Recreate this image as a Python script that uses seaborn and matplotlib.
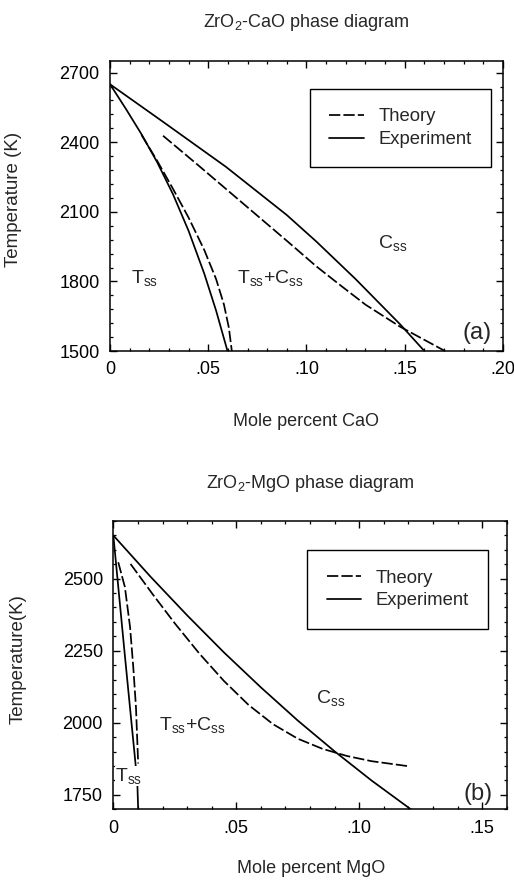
import matplotlib
matplotlib.use("Agg")
import matplotlib.pyplot as plt
import numpy as np
import pandas as pd
import seaborn as sns
from matplotlib.ticker import MultipleLocator, FixedLocator, FixedFormatter
from matplotlib.lines import Line2D

# ---------------- data: ZrO2-CaO (panel a) ----------------
ca_exp_css_x = [0.0, 0.027, 0.059, 0.090, 0.105, 0.125, 0.148, 0.160]
ca_exp_css_T = [2650, 2488, 2294, 2086, 1972, 1810, 1612, 1500]
ca_exp_tss_x = [0.0, 0.008, 0.016, 0.024, 0.032, 0.040, 0.048, 0.054, 0.0598]
ca_exp_tss_T = [2650, 2545, 2435, 2314, 2177, 2018, 1833, 1674, 1500]
ca_th_tss_x = [0.016, 0.024, 0.032, 0.040, 0.048, 0.054, 0.058, 0.0605, 0.062]
ca_th_tss_T = [2432, 2320, 2200, 2075, 1935, 1810, 1700, 1600, 1500]
ca_th_css_x = [0.027, 0.045, 0.063, 0.090, 0.105, 0.117, 0.130, 0.1476, 0.1705]
ca_th_css_T = [2428, 2300, 2170, 1975, 1865, 1785, 1700, 1605, 1500]
ca_xticks = [0.0, 0.05, 0.10, 0.15, 0.20]
ca_xticklabels = ["0", ".05", ".10", ".15", ".20"]
ca_yticks = [1500, 1800, 2100, 2400, 2700]

# ---------------- data: ZrO2-MgO (panel b) ----------------
mg_exp_css_x = [0.0, 0.015, 0.030, 0.045, 0.060, 0.075, 0.090, 0.105, 0.121]
mg_exp_css_T = [2650, 2508, 2373, 2244, 2123, 2008, 1901, 1800, 1700]
mg_exp_tss_x = [0.0, 0.0045, 0.009, 0.0098, 0.0101]
mg_exp_tss_T = [2650, 2250, 1860, 1780, 1700]
mg_th_tss_x = [0.0020, 0.0047, 0.0068, 0.0081, 0.0092, 0.0101]
mg_th_tss_T = [2557, 2471, 2332, 2194, 2055, 1859]
mg_th_css_x = [0.007, 0.016, 0.025, 0.035, 0.045, 0.055, 0.065, 0.075, 0.085, 0.095, 0.105, 0.1196]
mg_th_css_T = [2551, 2446, 2345, 2240, 2145, 2062, 1995, 1945, 1910, 1885, 1867, 1850]
mg_xticks = [0.0, 0.05, 0.10, 0.15]
mg_xticklabels = ["0", ".05", ".10", ".15"]
mg_yticks = [1750, 2000, 2250, 2500]

sns.set_style("ticks")
plt.rcParams["font.family"] = ["Liberation Sans", "DejaVu Sans"]
plt.rcParams["mathtext.fontset"] = "custom"
plt.rcParams["mathtext.rm"] = "Liberation Sans"
plt.rcParams["mathtext.it"] = "Liberation Sans:italic"

fig = plt.figure(figsize=(5.14, 8.82), dpi=100)
ax1 = fig.add_axes([0.214, 0.602, 0.7646, 0.3288])
ax2 = fig.add_axes([0.2205, 0.0824, 0.7654, 0.3269])

LW = 1.25
DASH = (6.5, 1.8)
TICK_FS = 13
LAB_FS = 13
REG_FS = 14


def draw(ax, x, T, dashed):
    df = pd.DataFrame({"x": x, "T": T})
    sns.lineplot(data=df, x="x", y="T", ax=ax, color="black", lw=LW,
                 estimator=None, sort=False)
    line = ax.lines[-1]
    line.set_solid_joinstyle("round")
    if dashed:
        line.set_dashes(DASH)


def style(ax, xlim, ylim, xticks, xlabels, yticks, xminor, yminor):
    ax.set_xlim(*xlim)
    ax.set_ylim(*ylim)
    ax.xaxis.set_major_locator(FixedLocator(xticks))
    ax.xaxis.set_major_formatter(FixedFormatter(xlabels))
    ax.yaxis.set_major_locator(FixedLocator(yticks))
    ax.xaxis.set_minor_locator(MultipleLocator(xminor))
    ax.yaxis.set_minor_locator(MultipleLocator(yminor))
    ax.tick_params(which="both", direction="in", top=True, right=True,
                   labelsize=TICK_FS, pad=7.5, color="black", labelcolor="black")
    ax.tick_params(which="major", length=5, width=1.0)
    ax.tick_params(which="minor", length=2.5, width=0.9)
    for s in ax.spines.values():
        s.set_visible(True)
        s.set_linewidth(1.1)
        s.set_color("black")


def legend(ax, anchor):
    handles = [Line2D([], [], color="black", lw=LW, dashes=DASH),
               Line2D([], [], color="black", lw=LW)]
    leg = ax.legend(handles, ["Theory", "Experiment"], loc="upper right",
                    bbox_to_anchor=anchor, borderaxespad=0, fontsize=13.3,
                    frameon=True, fancybox=False, framealpha=1,
                    edgecolor="black", borderpad=1.05, handlelength=1.85,
                    handletextpad=0.8, labelspacing=0.3)
    leg.get_frame().set_linewidth(1.0)


# ---------------- panel a ----------------
draw(ax1, ca_exp_css_x, ca_exp_css_T, False)
draw(ax1, ca_exp_tss_x, ca_exp_tss_T, False)
draw(ax1, ca_th_tss_x, ca_th_tss_T, True)
draw(ax1, ca_th_css_x, ca_th_css_T, True)
style(ax1, (0, 0.20), (1500, 2750), ca_xticks, ca_xticklabels, ca_yticks, 0.01, 60)
legend(ax1, (0.9695, 0.9034))
ax1.set_xlabel("Mole percent CaO", fontsize=LAB_FS)
ax1.set_ylabel("Temperature (K)", fontsize=13.5)
ax1.xaxis.set_label_coords(0.5, -0.215)
ax1.yaxis.set_label_coords(-0.225, 0.524)
ax1.text(0.5, 1.118, r"ZrO$_\mathregular{2}$-CaO phase diagram", transform=ax1.transAxes,
         ha="center", va="baseline", fontsize=13)
ax1.text(0.0178, 1815, r"T$_\mathregular{ss}$", ha="center", va="center", fontsize=REG_FS)
ax1.text(0.0818, 1815, r"T$_\mathregular{ss}$+C$_\mathregular{ss}$", ha="center", va="center", fontsize=REG_FS)
ax1.text(0.1438, 1965, r"C$_\mathregular{ss}$", ha="center", va="center", fontsize=REG_FS)
ax1.text(0.187, 1578, "(a)", ha="center", va="center", fontsize=17)

# ---------------- panel b ----------------
draw(ax2, mg_exp_css_x, mg_exp_css_T, False)
draw(ax2, mg_exp_tss_x, mg_exp_tss_T, False)
draw(ax2, mg_th_tss_x, mg_th_tss_T, True)
draw(ax2, mg_th_css_x, mg_th_css_T, True)
style(ax2, (0, 0.16), (1700, 2700), mg_xticks, mg_xticklabels, mg_yticks, 0.01, 50)
legend(ax2, (0.953, 0.8984))
ax2.set_xlabel("Mole percent MgO", fontsize=LAB_FS)
ax2.set_ylabel("Temperature(K)", fontsize=13.5)
ax2.xaxis.set_label_coords(0.502, -0.175)
ax2.yaxis.set_label_coords(-0.22, 0.521)
ax2.text(0.5, 1.1155, r"ZrO$_\mathregular{2}$-MgO phase diagram", transform=ax2.transAxes,
         ha="center", va="baseline", fontsize=13)
ax2.text(0.0061, 1815, r"T$_\mathregular{ss}$", ha="center", va="center", fontsize=REG_FS,
         bbox=dict(facecolor="white", edgecolor="none", pad=0.0))
ax2.text(0.032, 1994, r"T$_\mathregular{ss}$+C$_\mathregular{ss}$", ha="center", va="center", fontsize=REG_FS)
ax2.text(0.0885, 2086, r"C$_\mathregular{ss}$", ha="center", va="center", fontsize=REG_FS)
ax2.text(0.1482, 1752, "(b)", ha="center", va="center", fontsize=17)

fig.savefig("out.png", dpi=100)
